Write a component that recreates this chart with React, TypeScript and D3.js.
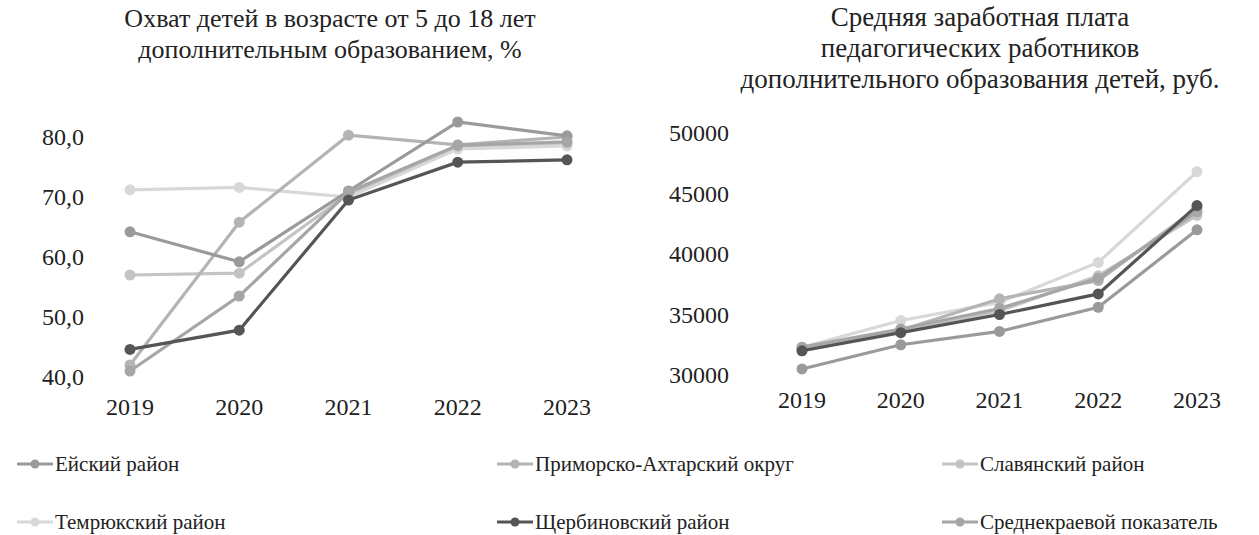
import React from "react";
import * as d3 from "d3";

const years = ["2019", "2020", "2021", "2022", "2023"];
const seriesNames = [
  "Ейский район",
  "Приморско-Ахтарский округ",
  "Славянский район",
  "Темрюкский район",
  "Щербиновский район",
  "Среднекраевой показатель",
];
const seriesColors = ["#9a9a9a", "#b4b4b4", "#c4c4c4", "#d8d8d8", "#555555", "#a6a6a6"];

// Охват детей, %
const coverEysk = [64.2, 59.2, 71.0, 82.5, 80.2];
const coverPrim = [42.0, 65.8, 80.3, 78.7, 80.0];
const coverSlav = [57.0, 57.3, 70.5, 78.5, 79.0];
const coverTemr = [71.2, 71.6, 70.0, 78.0, 78.5];
const coverSherb = [44.6, 47.8, 69.5, 75.8, 76.2];
const coverAvg = [41.0, 53.5, 70.8, 78.6, 79.2];

// Средняя заработная плата, руб.
const salEysk = [30500, 32500, 33600, 35600, 42000];
const salPrim = [32200, 33700, 36300, 37800, 43800];
const salSlav = [32000, 33600, 35300, 38200, 43200];
const salTemr = [32300, 34500, 36000, 39300, 46800];
const salSherb = [32000, 33500, 35000, 36700, 44000];
const salAvg = [32300, 33800, 35500, 38000, 43500];

const leftTicks = [40, 50, 60, 70, 80];
const rightTicks = [30000, 35000, 40000, 45000, 50000];

const leftTitle = ["Охват детей в возрасте от 5 до 18 лет", "дополнительным образованием, %"];
const rightTitle = [
  "Средняя заработная плата",
  "педагогических работников",
  "дополнительного образования детей, руб.",
];

const coverData = [coverEysk, coverPrim, coverSlav, coverTemr, coverSherb, coverAvg];
const salData = [salEysk, salPrim, salSlav, salTemr, salSherb, salAvg];

const FONT = '"Liberation Serif", "DejaVu Serif", serif';
const drawOrder = [3, 2, 1, 0, 5, 4];
const txt = { fontFamily: FONT, fill: "#222" };

function Panel({ data, x, y, ticks, fmt, labelX, xLabelY }: any) {
  const line = d3
    .line<number>()
    .x((_, i) => x(years[i]) as number)
    .y((v) => y(v));
  return (
    <g>
      {ticks.map((t: number) => (
        <text key={t} x={labelX} y={y(t)} dy="0.35em" textAnchor="end" fontSize={24} style={txt}>
          {fmt(t)}
        </text>
      ))}
      {years.map((yr) => (
        <text key={yr} x={x(yr)} y={xLabelY} textAnchor="middle" fontSize={24} style={txt}>
          {yr}
        </text>
      ))}
      {drawOrder.map((si) => (
        <g key={si}>
          <path d={line(data[si]) || ""} fill="none" stroke={seriesColors[si]} strokeWidth={3.2} />
          {data[si].map((v: number, i: number) => (
            <circle key={i} cx={x(years[i]) as number} cy={y(v)} r={5.5} fill={seriesColors[si]} />
          ))}
        </g>
      ))}
    </g>
  );
}

export default function App() {
  const W = 1259;
  const H = 535;
  const xL = d3.scalePoint<string>().domain(years).range([130, 567]);
  const yL = d3.scaleLinear().domain([40, 80]).range([377, 137]);
  const xR = d3.scalePoint<string>().domain(years).range([802, 1197]);
  const yR = d3.scaleLinear().domain([30000, 50000]).range([375, 133]);
  const fmtL = (v: number) => d3.format(".1f")(v).replace(".", ",");
  const fmtR = (v: number) => String(v);

  const legendPos = [
    [17, 464],
    [497, 464],
    [942, 464],
    [17, 522],
    [497, 522],
    [942, 522],
  ];

  return (
    <svg
      width={W}
      height={H}
      style={{ position: "absolute", left: 0, top: 0, background: "#fff", fontFamily: FONT }}
    >
      {leftTitle.map((t, i) => (
        <text key={i} x={330} y={27 + i * 31} textAnchor="middle" fontSize={26} style={txt}>
          {t}
        </text>
      ))}
      {rightTitle.map((t, i) => (
        <text key={i} x={980} y={26 + i * 31} textAnchor="middle" fontSize={27} style={txt}>
          {t}
        </text>
      ))}
      <Panel data={coverData} x={xL} y={yL} ticks={leftTicks} fmt={fmtL} labelX={84} xLabelY={415} />
      <Panel data={salData} x={xR} y={yR} ticks={rightTicks} fmt={fmtR} labelX={729} xLabelY={408} />
      {seriesNames.map((n, i) => {
        const [lx, ly] = legendPos[i];
        return (
          <g key={n}>
            <line x1={lx} x2={lx + 36} y1={ly} y2={ly} stroke={seriesColors[i]} strokeWidth={3.2} />
            <circle cx={lx + 18} cy={ly} r={4.5} fill={seriesColors[i]} />
            <text x={lx + 38} y={ly} dy="0.35em" fontSize={21} style={txt}>
              {n}
            </text>
          </g>
        );
      })}
    </svg>
  );
}
